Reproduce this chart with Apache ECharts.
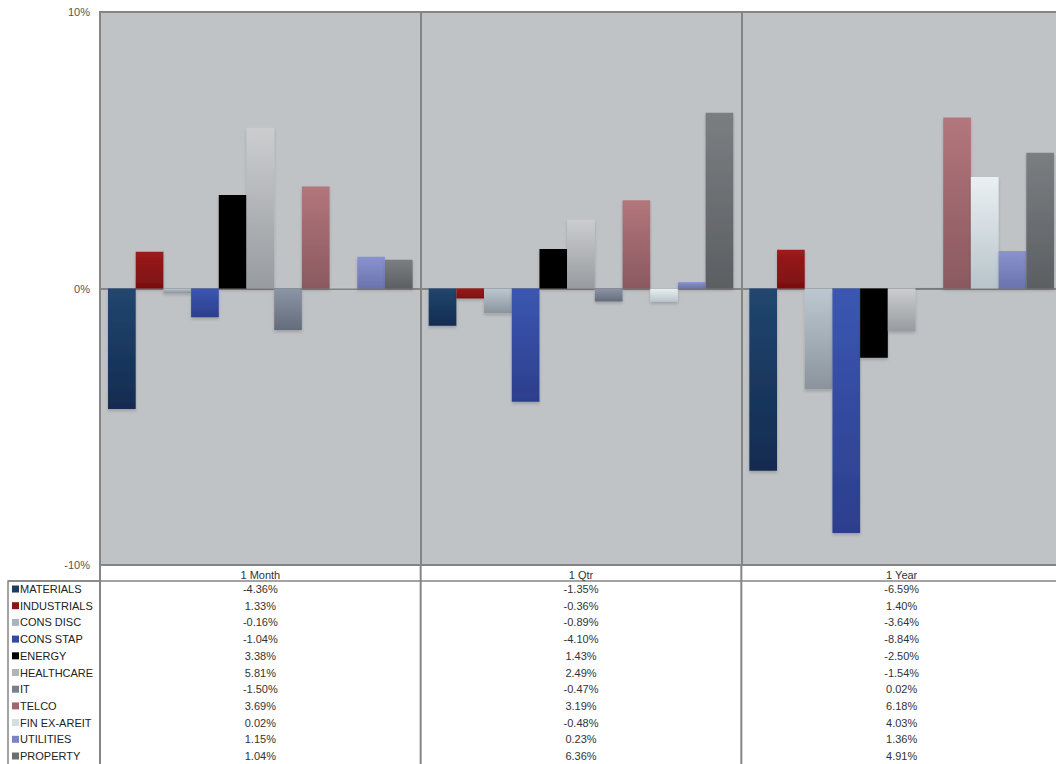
<!DOCTYPE html>
<html>
<head>
<meta charset="utf-8">
<script src="https://cdn.jsdelivr.net/npm/echarts@6/dist/echarts.min.js"></script>
<style>
  html, body { margin: 0; padding: 0; background: #ffffff; overflow: hidden; }
  #chart { width: 1056px; height: 764px; }
</style>
</head>
<body>
<div id="chart"></div>
<script>
// Sector returns by period (percent)
var periods = ['1 Month', '1 Qtr', '1 Year'];
var sectors = ['MATERIALS', 'INDUSTRIALS', 'CONS DISC', 'CONS STAP', 'ENERGY',
               'HEALTHCARE', 'IT', 'TELCO', 'FIN EX-AREIT', 'UTILITIES', 'PROPERTY'];
var materials   = [-4.36, -1.35, -6.59];
var industrials = [1.33, -0.36, 1.40];
var consDisc    = [-0.16, -0.89, -3.64];
var consStap    = [-1.04, -4.10, -8.84];
var energy      = [3.38, 1.43, -2.50];
var healthcare  = [5.81, 2.49, -1.54];
var it          = [-1.50, -0.47, 0.02];
var telco       = [3.69, 3.19, 6.18];
var finExAreit  = [0.02, -0.48, 4.03];
var utilities   = [1.15, 0.23, 1.36];
var property    = [1.04, 6.36, 4.91];
var yTicks = [-10, 0, 10];

var seriesValues = [materials, industrials, consDisc, consStap, energy,
                    healthcare, it, telco, finExAreit, utilities, property];

// Top/bottom gradient stops and flat swatch colour for each sector
var palette = [
  { top: '#21466f', bottom: '#132b50', swatch: '#1d3b63' },
  { top: '#9c1b1b', bottom: '#7a1010', swatch: '#8b1515' },
  { top: '#bcc8d1', bottom: '#8b949c', swatch: '#a9b4be' },
  { top: '#3b57b2', bottom: '#2c3e8c', swatch: '#3449a0' },
  { top: '#000000', bottom: '#000000', swatch: '#000000' },
  { top: '#cbcdcf', bottom: '#989b9f', swatch: '#b2b4b7' },
  { top: '#8c95a6', bottom: '#646c7c', swatch: '#76808f' },
  { top: '#b2767b', bottom: '#8a5960', swatch: '#a0686e' },
  { top: '#eaf0f3', bottom: '#b8c4ca', swatch: '#d3dde2' },
  { top: '#8b93cf', bottom: '#6b73ae', swatch: '#7b83c0' },
  { top: '#7b7e81', bottom: '#5c5f62', swatch: '#6c6f72' }
];

var FONT = '"Liberation Sans", Arial, sans-serif';
var LINE = '#858585';

var chart = echarts.init(document.getElementById('chart'), null, { renderer: 'svg' });

var series = sectors.map(function (name, i) {
  return {
    name: name,
    type: 'bar',
    barGap: '0%',
    barCategoryGap: '5%',
    data: seriesValues[i],
    itemStyle: {
      color: new echarts.graphic.LinearGradient(0, 0, 0, 1, [
        { offset: 0, color: palette[i].top },
        { offset: 1, color: palette[i].bottom }
      ]),
      shadowColor: 'rgba(0,0,0,0.18)',
      shadowBlur: 3,
      shadowOffsetY: 2
    },
    emphasis: { disabled: true },
    animation: false
  };
});

var option = {
  animation: false,
  textStyle: { fontFamily: FONT },
  grid: {
    left: 100, top: 12, width: 962, bottom: 199,
    outerBoundsMode: 'none',
    containLabel: false,
    show: true,
    backgroundColor: '#c0c3c6',
    borderColor: LINE,
    borderWidth: 2
  },
  xAxis: {
    type: 'category',
    data: periods,
    position: 'bottom',
    axisLine: { show: true, lineStyle: { color: LINE, width: 2 } },
    axisTick: { show: false },
    axisLabel: { margin: 4, fontSize: 11, color: '#333333', fontFamily: FONT },
    splitLine: { show: true, lineStyle: { color: LINE, width: 2 } }
  },
  yAxis: {
    type: 'value',
    min: yTicks[0],
    max: yTicks[yTicks.length - 1],
    interval: 10,
    axisLine: { show: false },
    axisTick: { show: false },
    axisLabel: {
      margin: 10, fontSize: 11, color: '#555555', fontFamily: FONT,
      formatter: function (v) { return v + '%'; }
    },
    splitLine: { show: true, lineStyle: { color: LINE, width: 1.5 } }
  },
  series: series
};

chart.setOption(option);

// Data table under the plot, positioned from the axis scales
var gridBottom = chart.convertToPixel({ yAxisIndex: 0 }, yTicks[0]);
var plotLeft = 100;
var headerBottom = gridBottom + 16;
var rowStep = 16.7;
var firstRowY = headerBottom + 8;
var colCenters = periods.map(function (p) { return chart.convertToPixel({ xAxisIndex: 0 }, p); });
var colWidth = colCenters.length > 1 ? colCenters[1] - colCenters[0] : 320;

var g = [];
// header underline
g.push({ type: 'line', shape: { x1: 8, y1: headerBottom, x2: 1070, y2: headerBottom },
         style: { stroke: LINE, lineWidth: 1.5 }, silent: true });
// label column box
g.push({ type: 'rect', shape: { x: 8, y: headerBottom, width: plotLeft - 8, height: 200 },
         style: { fill: 'none', stroke: LINE, lineWidth: 1.5 }, silent: true });
// column dividers
colCenters.forEach(function (c) {
  var x = c - colWidth / 2;
  g.push({ type: 'line', shape: { x1: x, y1: gridBottom, x2: x, y2: 770 },
           style: { stroke: LINE, lineWidth: 2 }, silent: true });
});
// rows: swatch + name + values
sectors.forEach(function (name, i) {
  var y = firstRowY + i * rowStep;
  g.push({ type: 'rect', shape: { x: 12, y: y - 3.5, width: 7, height: 7 },
           style: { fill: palette[i].swatch }, silent: true });
  g.push({ type: 'text', x: 20, y: y,
           style: { text: name, fontSize: 11, fontFamily: FONT, fill: '#222222',
                    textAlign: 'left', textVerticalAlign: 'middle' }, silent: true });
  seriesValues[i].forEach(function (v, j) {
    g.push({ type: 'text', x: colCenters[j], y: y,
             style: { text: v.toFixed(2) + '%', fontSize: 11, fontFamily: FONT, fill: '#333333',
                      textAlign: 'center', textVerticalAlign: 'middle' }, silent: true });
  });
});

chart.setOption({ graphic: { elements: g } });
</script>
</body>
</html>
